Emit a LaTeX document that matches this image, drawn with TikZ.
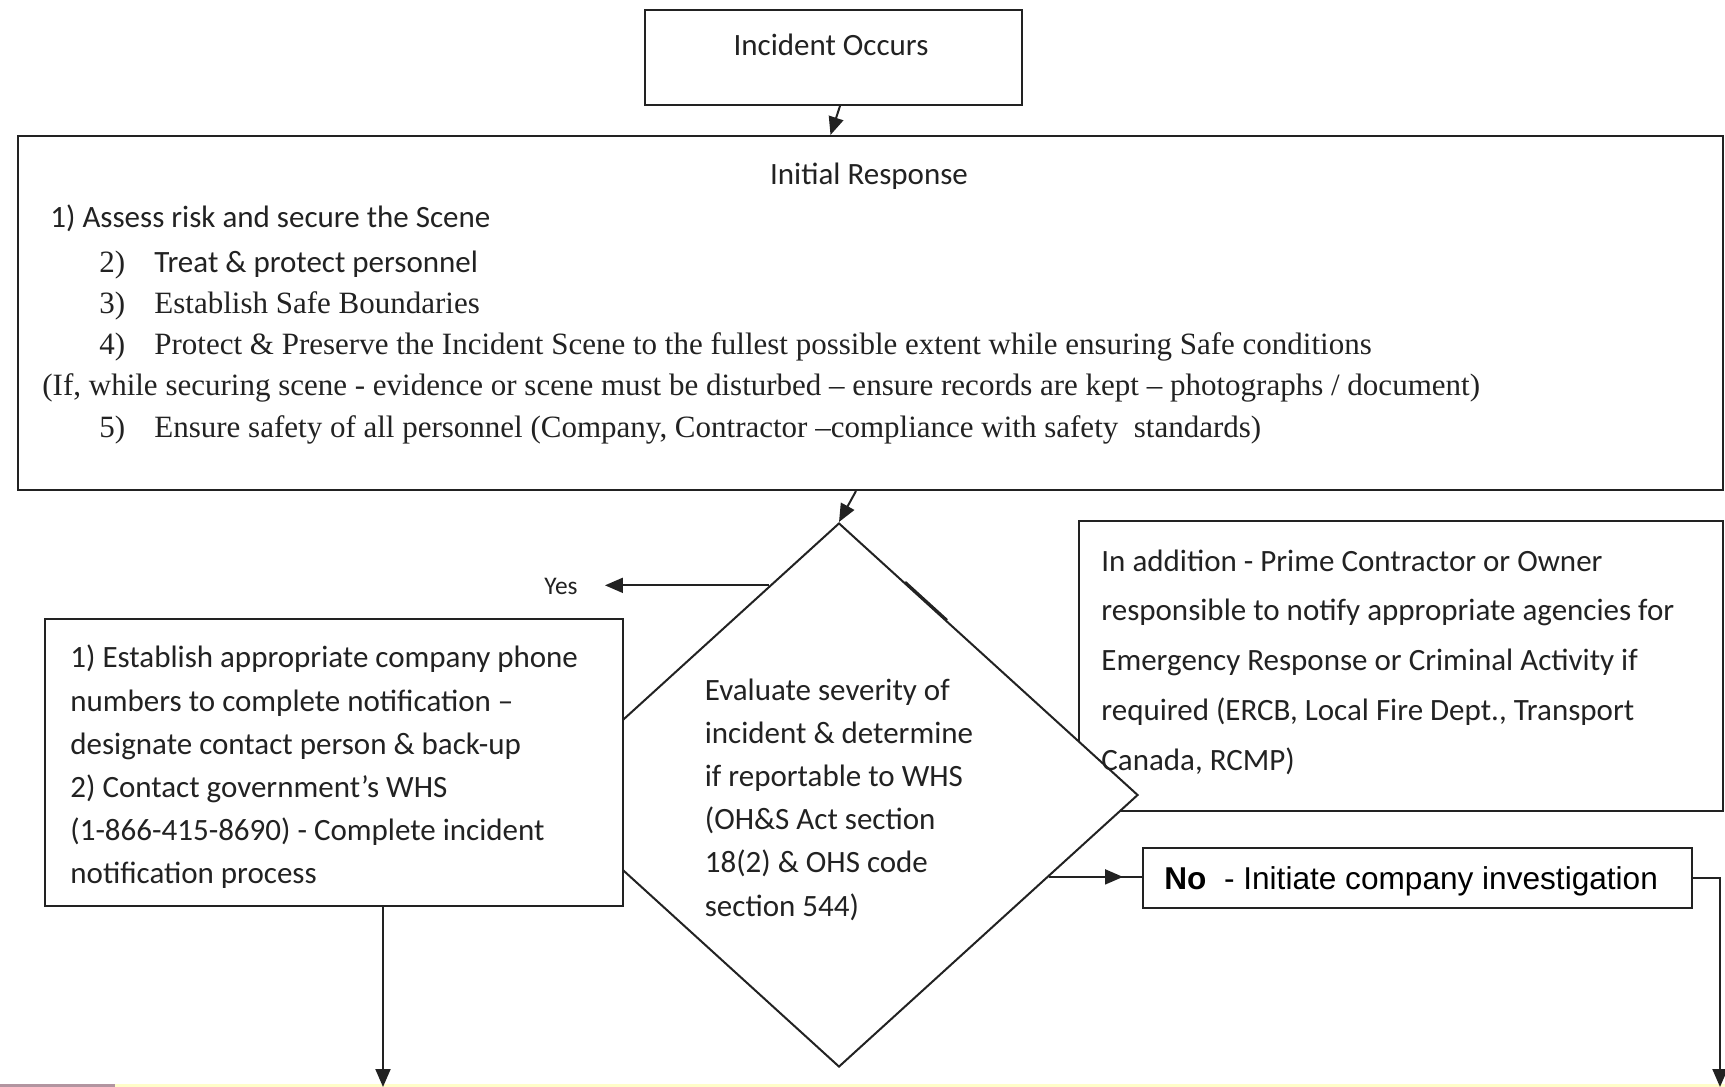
\documentclass[tikz,border=0pt]{standalone}
\usepackage{fontspec}
\setmainfont{Liberation Serif}
\newfontfamily\calibri{Carlito}
\newfontfamily\arial{Liberation Sans}
\usetikzlibrary{arrows.meta}
\usetikzlibrary{shapes}
\usetikzlibrary{calc}

\definecolor{band}{HTML}{FFFDC8}
\definecolor{photo}{HTML}{B295A0}
\definecolor{ink}{HTML}{222222}

\tikzset{
	box/.style={draw=ink, line width=1pt, fill=white, inner sep=0pt},
	cal/.style={font=\calibri\fontsize{15.5}{21.6}\selectfont, text=ink, inner sep=0pt},
	tms/.style={font=\fontsize{15.5}{20}\selectfont, text=ink, inner sep=0pt},
	arr/.style={draw=ink, line width=1pt, -{Triangle[length=9pt,width=7.5pt]}},
	link/.style={draw=ink, line width=1pt}
}

\begin{document}
\begin{tikzpicture}[x=0.5pt, y=-0.5pt]
			\useasboundingbox (0,0) rectangle (1725,1087);
			%% strip at the bottom edge
			\fill[band] (115,1084) rectangle (1725,1087);
			\fill[photo] (0,1084) rectangle (115,1087);
			%% top box
			\node[box, minimum width=188.5pt, minimum height=47.5pt] (occ) at (833.5,57.5) {};
			\node[cal, anchor=base] (occt) at (831,55) {Incident Occurs};
			%% Initial Response
			\node[box, minimum width=852.5pt, minimum height=177pt] (ir) at (870.5,313) {};
			\node[cal, anchor=base] (irt) at (869,184) {Initial Response};
			\node[cal, anchor=base west] (s1) at (50,227) 
				{1) Assess risk and secure the Scene};
			\node[tms, anchor=base west] (n2) at (99,272) {2)};
			\node[cal, anchor=base west] (s2) at (154,272) 
				{Treat \& protect personnel};
			\node[tms, anchor=base west] (n3) at (99,313) {3)};
			\node[tms, anchor=base west] (s3) at (154,313) 
				{Establish Safe Boundaries};
			\node[tms, anchor=base west] (n4) at (99,354) {4)};
			\node[tms, anchor=base west] (s4) at (154,354) 
				{Protect \& Preserve the Incident Scene to the fullest possible extent while ensuring Safe conditions};
			\node[tms, anchor=base west] (sif) at (42,395) 
				{(If, while securing scene - evidence or scene must be disturbed – ensure records are kept – photographs / document)};
			\node[tms, anchor=base west] (n5) at (99,437) {5)};
			\node[tms, anchor=base west] (s5) at (154,437) 
				{Ensure safety of all personnel (Company, Contractor –compliance with safety\ \ standards)};
			\draw[arr] ([xshift=3.25pt]occ.south) -- ([xshift=-20pt]ir.north);
			%% box on the right, under the diamond
			\node[box, minimum width=322pt, minimum height=145pt] (add) at (1401,666) {};
			%% the decision
			\node[shape=diamond, draw=ink, line width=1pt, fill=white, inner sep=0pt, 
				minimum width=299pt, minimum height=272pt] (dia) at (839,795) {};
			\node[cal, align=left] (diat) at (839,799.5) 
				{Evaluate severity of\\incident \& determine\\if reportable to WHS\\(OH\&S Act section\\18(2) \& OHS code\\section 544)};
			\draw[line width=1.4pt, draw=ink] ($(dia.north)!0.22!(dia.east)$) 
				-- ($(dia.north)!0.36!(dia.east)$);
			\node[cal, font=\calibri\fontsize{15.5}{24.9}\selectfont, align=left, anchor=west] (addt) at (1101,662) 
				{In addition - Prime Contractor or Owner\\responsible to notify appropriate agencies for\\Emergency Response or Criminal Activity if\\required (ERCB, Local Fire Dept., Transport\\Canada, RCMP)};
			\draw[arr] ([xshift=-7.25pt]ir.south) -- (dia.north);
			%% Yes branch
			\node[box, minimum width=289pt, minimum height=143.5pt] (act) at (334,762.5) {};
			\node[cal, align=left, anchor=west] (actt) at (70,767) 
				{1) Establish appropriate company phone\\numbers to complete notification –\\designate contact person \& back-up\\2) Contact government’s WHS\\(1-866-415-8690) - Complete incident\\notification process};
			\node[cal, font=\calibri\fontsize{12.7}{14}\selectfont] (yes) at (561,586) {Yes};
			\coordinate (yesp) at ($(dia.north)!0.232!(dia.west)$);
			\draw[arr, shorten >=13.5pt] (yesp) -- (yesp -| yes.east);
			\coordinate (outl) at (383,1087);
			\draw[arr] (act.south -| outl) -- (outl);
			%% No branch
			\node[box, minimum width=274.5pt, minimum height=30pt] (no) at (1417.5,878) {};
			\node[font=\arial\fontsize{15.8}{18}\selectfont, text=black, inner sep=0pt, anchor=west] (not) at (1164,881) 
				{\textbf{No}\ \ - Initiate company investigation};
			\coordinate (nop) at ($(dia.east)!0.3!(dia.south)$);
			\draw[link] (nop) -- (nop -| no.west);
			\draw[arr] (nop) -- ([xshift=-9.5pt]nop -| no.west);
			\coordinate (outr) at (1720,1087);
			\draw[arr] (no.east) -| (outr);
		\end{tikzpicture}
\end{document}
